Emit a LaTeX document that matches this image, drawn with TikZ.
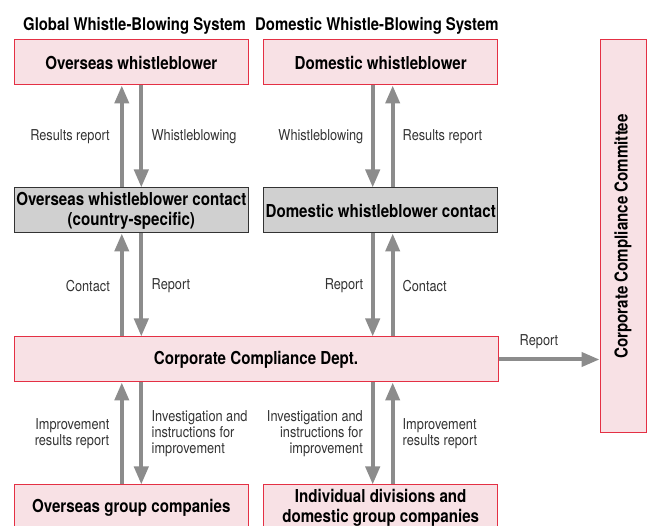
\documentclass[tikz,border=0pt]{standalone}
\usepackage{fontspec}
\setmainfont{TeX Gyre Heros}[FakeStretch=0.85]
\usepackage{graphicx}
\usetikzlibrary{arrows.meta}
\definecolor{wbpink}{RGB}{248,225,229}
\definecolor{wbred}{RGB}{228,48,68}
\definecolor{wbgray}{RGB}{208,208,208}
\definecolor{wbarrow}{RGB}{140,140,140}
\definecolor{wbtext}{RGB}{51,51,51}

\begin{document}
\begin{tikzpicture}[x=1pt,y=-1pt,box/.style={draw=wbred,line width=1pt,fill=wbpink,align=center,minimum width=234pt,minimum height=45pt,inner sep=2pt,font=\bfseries\fontsize{17.8}{20}\selectfont},contact/.style={box,draw=black!80,fill=wbgray},lbl/.style={text=wbtext,inner sep=0pt,font=\fontsize{15}{16}\selectfont},head/.style={inner sep=0pt,font=\bfseries\fontsize{17.5}{19}\selectfont},flow/.style={-{Triangle[length=18pt,width=14pt]},line width=4pt,draw=wbarrow}]
\useasboundingbox (0,0) rectangle (649,526);
\clip (0,0) rectangle (649,526);
\node[head,anchor=base west] (globtitle) at (23,30.5) {Global Whistle-Blowing System};
\node[head,anchor=base west] (domtitle) at (255,30.5) {Domestic Whistle-Blowing System};
\node[box] (ovwb) at (131.3,62.5) {Overseas whistleblower};
\node[box] (dowb) at (380.7,62.5) {Domestic whistleblower};
\node[contact] (ovct) at (131.3,210.5) {Overseas whistleblower contact\\(country-specific)};
\node[contact] (doct) at (380.7,210.5) {Domestic whistleblower contact};
\node[box,minimum width=484pt] (ccd) at (256,359.5) {Corporate Compliance Dept.};
\node[box] (ovgc) at (131.3,507.5) {Overseas group companies};
\node[box] (divgc) at (380.7,507.5) {Individual divisions and\\domestic group companies};
\node[box,minimum width=46pt,minimum height=393pt] (ccc) at (623,236.5) {\rotatebox{90}{Corporate Compliance Committee}};
\draw[flow] ([xshift=-9.5pt]ovct.north) -- ([xshift=-9.5pt]ovwb.south);
\draw[flow] ([xshift=10pt]ovwb.south) -- ([xshift=10pt]ovct.north);
\draw[flow] ([xshift=-8pt]dowb.south) -- ([xshift=-8pt]doct.north);
\draw[flow] ([xshift=12pt]doct.north) -- ([xshift=12pt]dowb.south);
\draw[flow] ([xshift=-9.5pt]ovct.south |- ccd.north) -- ([xshift=-9.5pt]ovct.south);
\draw[flow] ([xshift=10pt]ovct.south) -- ([xshift=10pt]ovct.south |- ccd.north);
\draw[flow] ([xshift=-8pt]doct.south) -- ([xshift=-8pt]doct.south |- ccd.north);
\draw[flow] ([xshift=12pt]doct.south |- ccd.north) -- ([xshift=12pt]doct.south);
\draw[flow] ([xshift=-9.5pt]ovgc.north) -- ([xshift=-9.5pt]ovgc.north |- ccd.south);
\draw[flow] ([xshift=10pt]ovgc.north |- ccd.south) -- ([xshift=10pt]ovgc.north);
\draw[flow] ([xshift=-8pt]divgc.north |- ccd.south) -- ([xshift=-8pt]divgc.north);
\draw[flow] ([xshift=12pt]divgc.north) -- ([xshift=12pt]divgc.north |- ccd.south);
\draw[flow] (ccd.east) -- (ccd.east -| ccc.west);
\node[lbl,anchor=east] (ovres) at (110,137) {Results report};
\node[lbl,anchor=west] (ovwhis) at (151.5,137) {Whistleblowing};
\node[lbl,anchor=east] (dowhis) at (363.5,137) {Whistleblowing};
\node[lbl,anchor=west] (dores) at (402.5,137) {Results report};
\node[lbl,anchor=east] (ovcon) at (110,286) {Contact};
\node[lbl,anchor=west] (ovrep) at (151.5,286) {Report};
\node[lbl,anchor=east] (dorep) at (363.5,286) {Report};
\node[lbl,anchor=west] (docon) at (402.5,286) {Contact};
\node[lbl] (ccrep) at (539,342) {Report};
\node[lbl,anchor=east,align=right] (ovimp) at (109.5,433.5) {Improvement\\results report};
\node[lbl,anchor=west,align=left] (ovinv) at (151.5,433.5) {Investigation and\\instructions for\\improvement};
\node[lbl,anchor=east,align=right] (divinv) at (363,433.5) {Investigation and\\instructions for\\improvement};
\node[lbl,anchor=west,align=left] (divimp) at (402.5,433.5) {Improvement\\results report};
\end{tikzpicture}
\end{document}
